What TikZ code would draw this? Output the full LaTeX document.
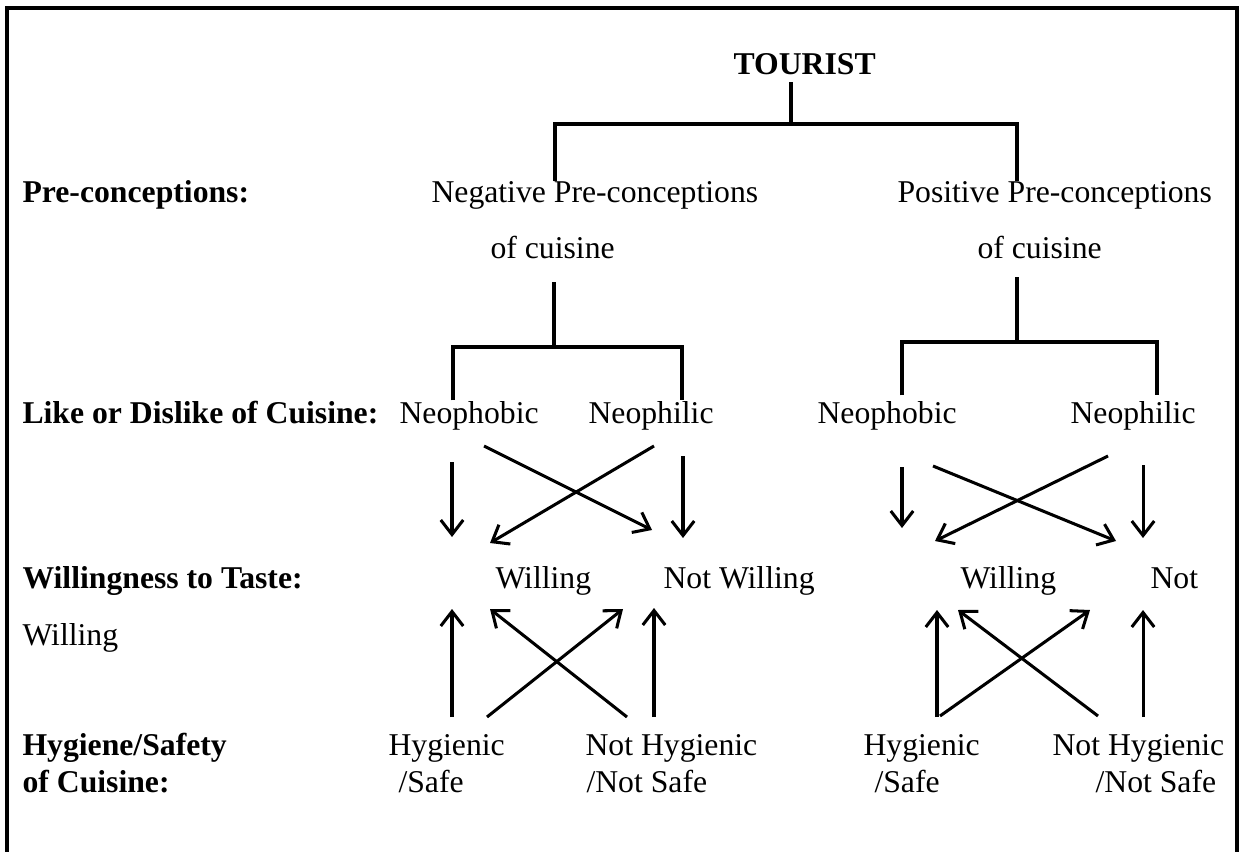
\documentclass[tikz,border=0pt]{standalone}
\usepackage{fontspec}
\setmainfont{Liberation Serif}
\usepackage{tikz}
\usetikzlibrary{arrows.meta,calc,positioning}

\begin{document}
\begin{tikzpicture}[x=0.3785pt,y=-0.3785pt,
  txt/.style={inner sep=0pt,anchor=base west,font=\fontsize{12}{14}\selectfont},
  hd/.style={txt,font=\fontsize{12}{14}\selectfont\bfseries},
  tree/.style={line width=1.35pt},
  arr/.style={line width=1.15pt,-{Straight Barb[length=5.5pt,width=8.5pt,line width=1.15pt]}}]
\useasboundingbox (0,0) rectangle (1239,852);
% open frame (no bottom edge)
\draw[line width=1.25pt] (7,852) -- (7,8) -- (1237,8) -- (1237,852);

% row labels
\node[hd] (preLbl)  at (22,203) {Pre-conceptions:};
\node[hd] (likeLbl) at (22,423) {Like or Dislike of Cuisine:};
\node[hd] (willLbl) at (22,588) {Willingness to Taste:};
\node[txt] (stray)  at (22,645) {Willing};
\node[hd] (hygLbl)  at (22,755) {Hygiene/Safety};
\node[hd] (hygLblb) at (22,792) {of Cuisine:};

% tree
\node[hd] (tourist) at (733,75) {TOURIST};
\node[txt] (negA) at (431,203) {Negative Pre-conceptions};
\node[txt] (negB) at (490,259) {of cuisine};
\node[txt] (posA) at (897,203) {Positive Pre-conceptions};
\node[txt] (posB) at (977,259) {of cuisine};

\node[txt] (phobL) at (399,423) {Neophobic};
\node[txt] (philL) at (588,423) {Neophilic};
\node[txt] (phobR) at (817,423) {Neophobic};
\node[txt] (philR) at (1070,423) {Neophilic};

\node[txt] (willL)    at (495,588) {Willing};
\node[txt] (notwillL) at (663,588) {Not Willing};
\node[txt] (willR)    at (960,588) {Willing};
\node[txt] (notR)     at (1150,588) {Not};

\node[txt] (hygL)   at (388,755) {Hygienic};
\node[txt] (safeL)  at (398,792) {/Safe};
\node[txt] (nhygL)  at (585,755) {Not Hygienic};
\node[txt] (nsafeL) at (586,792) {/Not Safe};
\node[txt] (hygR)   at (863,755) {Hygienic};
\node[txt] (safeR)  at (874,792) {/Safe};
\node[txt] (nhygR)  at (1052,755) {Not Hygienic};
\node[txt] (nsafeR) at (1095,792) {/Not Safe};

% junctions of the brackets
\coordinate (t0) at (791,124); \coordinate (t1) at (555,124); \coordinate (t2) at (1017,124);
\coordinate (n0) at (554,347); \coordinate (n1) at (453,347); \coordinate (n2) at (682,347);
\coordinate (p0) at (1017,342); \coordinate (p1) at (902,342); \coordinate (p2) at (1157,342);

\draw[tree,shorten >=2.3pt] (t0) -- (t0 |- tourist.south);
\draw[tree] (negA.north -| t1) -- (t1) -- (t2) -- (posA.north -| t2);
\draw[tree,shorten >=8.3pt] (n0) -- (n0 |- negB.south);
\draw[tree] (phobL.north -| n1) -- (n1) -- (n2) -- (philL.north -| n2);
\draw[tree,shorten >=6.4pt] (p0) -- (p0 |- posB.south);
\draw[tree,shorten <=1.9pt,shorten >=1.9pt] (phobR.north -| p1) -- (p1) -- (p2) -- (philR.north -| p2);

% arrows: like/dislike -> willingness, hygiene -> willingness
\foreach \n/\sx/\sy/\ex/\ey in {
  a/452/462/452/537, b/484/446/652/530, c/654/446/490/543, d/683/456/683/538,
  e/902/467/902/528, f/933/466/1116/541, g/1108/456/935/541, h/1143/465/1143/538,
  i/452/717/452/609, j/487/717/623/609, k/627/717/490/609, l/654/717/654/608,
  m/937/717/937/610, n/940/716/1090/610, o/1098/716/958/610, p/1143/717/1143/610}{
  \coordinate (s\n) at (\sx,\sy); \coordinate (e\n) at (\ex,\ey);
  \draw[arr] (s\n) -- (e\n);
}
\end{tikzpicture}
\end{document}
